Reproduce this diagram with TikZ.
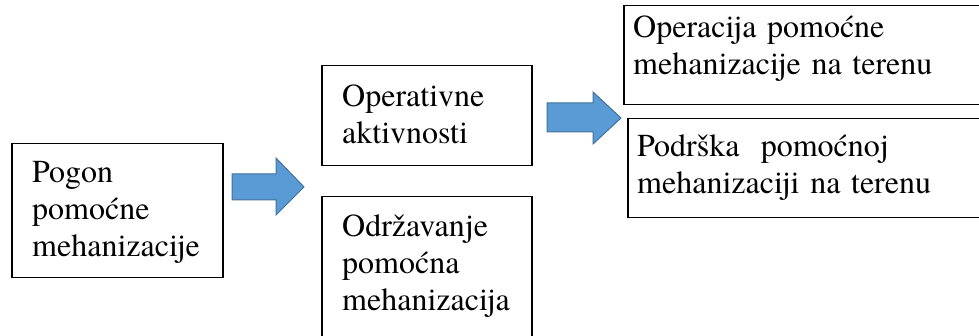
\documentclass[tikz,border=0pt]{standalone}
\usepackage{fontspec}
\setmainfont{texgyretermes}[Extension=.otf, UprightFont=*-regular, BoldFont=*-bold, ItalicFont=*-italic, BoldItalicFont=*-bolditalic]
\definecolor{arrowfill}{HTML}{5B9BD5}
\definecolor{arrowline}{HTML}{41719C}
\begin{document}
\begin{tikzpicture}[x=1pt,y=-1pt,
  box/.style={draw=black, line width=1.5pt, rectangle, inner sep=0pt, anchor=north west},
  txt/.style={inner sep=0pt, anchor=base west, align=left, text width=#1,
    font=\rmfamily\fontsize{32}{37}\selectfont},
  txt/.default=300pt,
  blockarrow/.style={fill=arrowfill, draw=arrowline, line width=1pt, line join=miter}]
\useasboundingbox (0,0) rectangle (979,336);
\clip (0,0) rectangle (979,336);
% boxes
\node[box, minimum width=211pt, minimum height=134pt] (b1) at (11,143) {};
\node[box, minimum width=210pt, minimum height=100pt] (b2) at (321,65) {};
\node[box, minimum width=210pt, minimum height=150pt] (b3) at (321,196) {};
\node[box, minimum width=380pt, minimum height=99pt] (b4) at (623,5) {};
\node[box, minimum width=380pt, minimum height=99pt] (b5) at (627,118) {};
% texts
\node[txt=185pt] (t1) at (32,183) {Pogon\\pomoćne\\mehanizacije};
\node[txt=185pt] (t2) at (342,107) {Operativne\\aktivnosti};
\node[txt=185pt] (t3) at (342,237) {Održavanje\\pomoćna\\mehanizacija};
\node[txt=340pt] (t4) at (633,38) {Operacija pomoćne\\mehanizacije na terenu};
\node[txt=340pt] (t5) at (637,157) {Podrška\ \ pomoćnoj\\mehanizaciji na terenu};
% block arrows
\draw[blockarrow] (232,174) -- (276,174) -- (276,158) -- (304,187) -- (276,215) -- (276,200) -- (232,200) -- cycle;
\draw[blockarrow] (547,103) -- (593,103) -- (593,92) -- (621,118) -- (593,144) -- (593,132) -- (547,132) -- cycle;
\end{tikzpicture}
\end{document}
